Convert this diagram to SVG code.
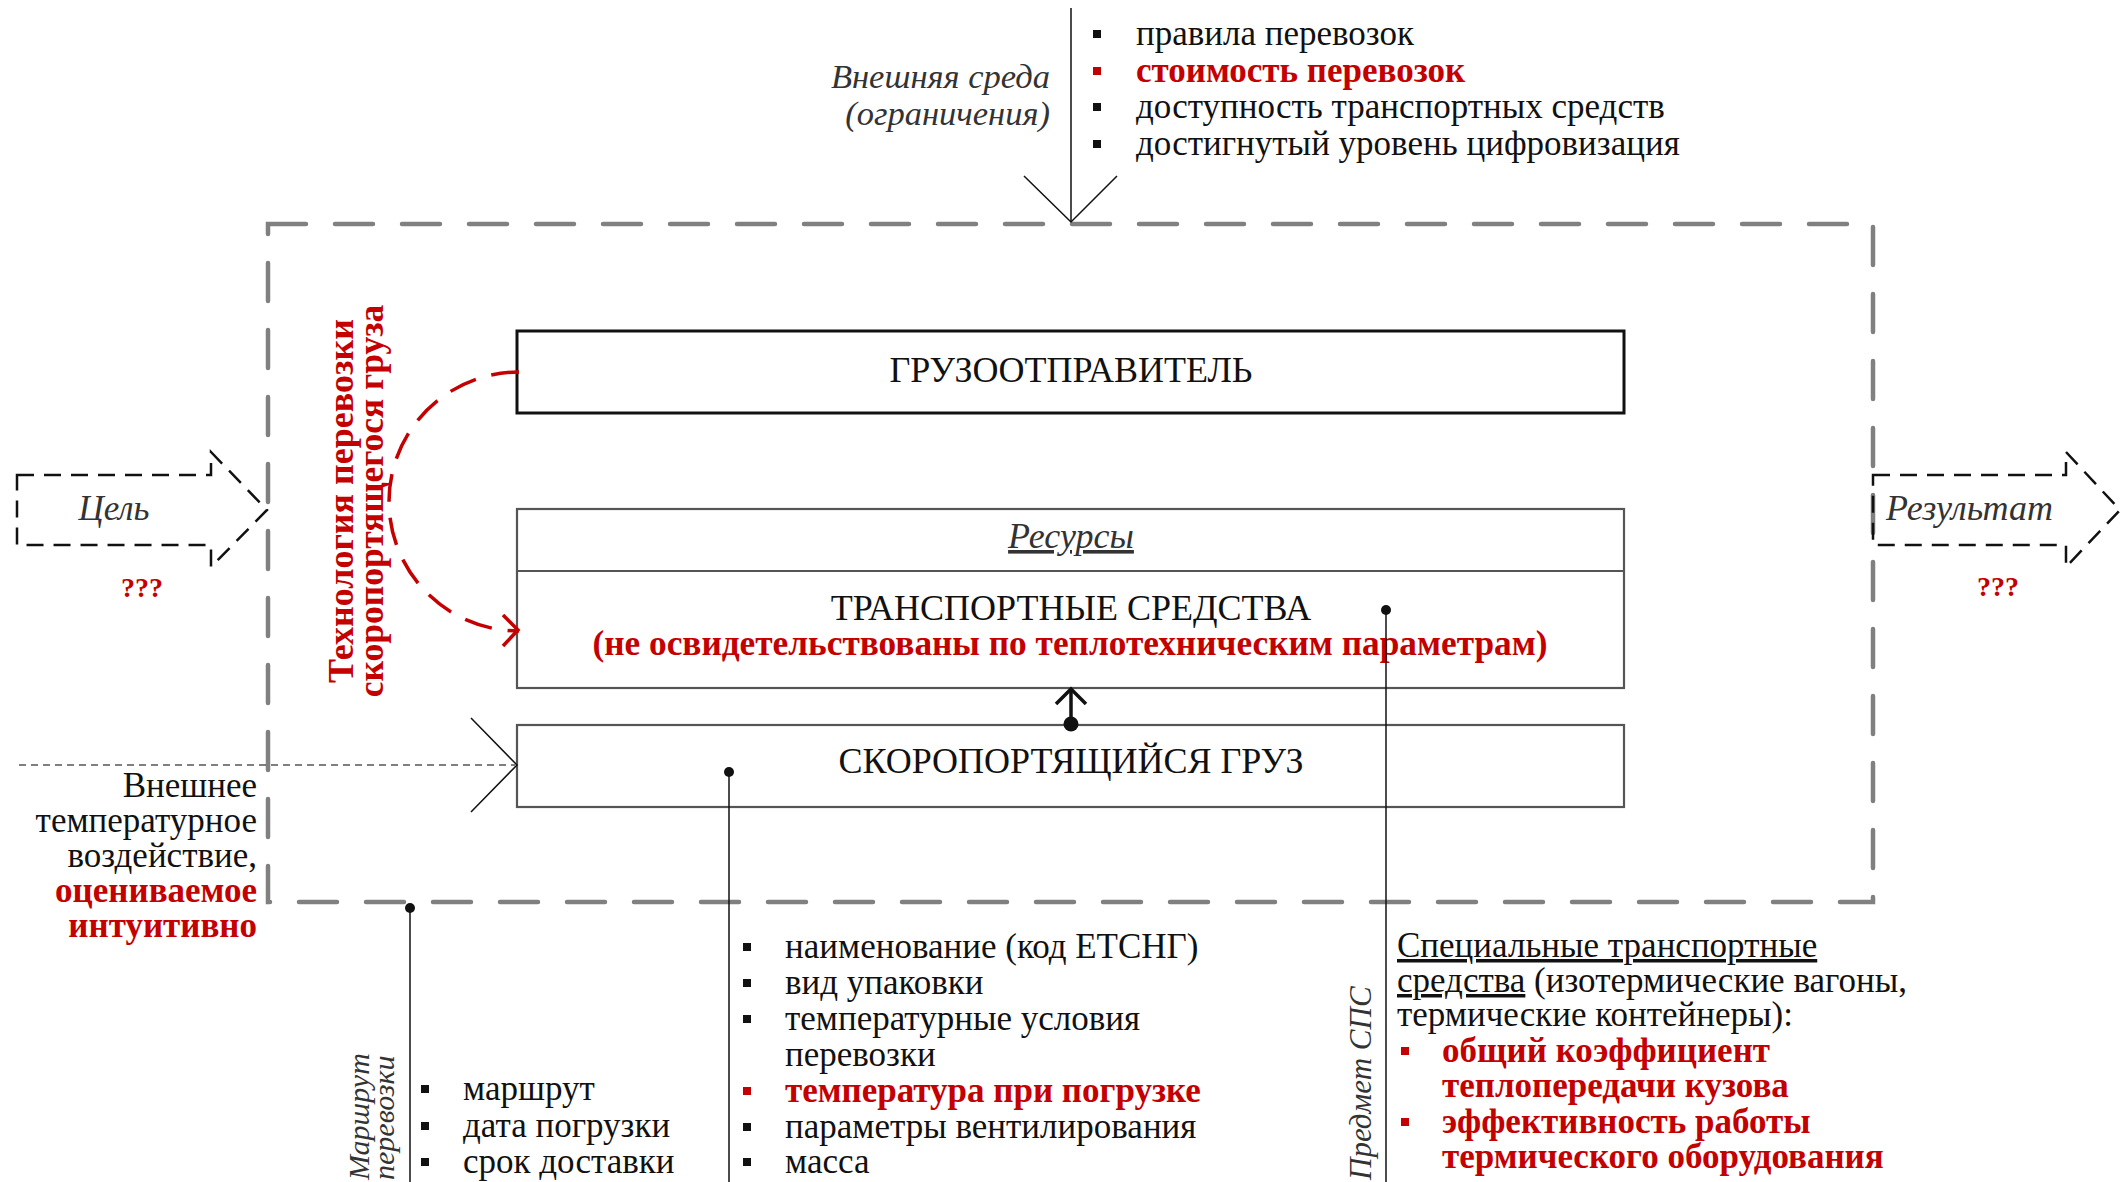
<svg xmlns="http://www.w3.org/2000/svg" width="2123" height="1182" viewBox="0 0 2123 1182">
<style>
  text { font-family: "Liberation Serif", "Times New Roman", serif; fill: #111; }
  .t { font-size: 35px; }
  .h { font-size: 36px; }
  .it { font-style: italic; fill: #333; }
  .red { fill: #c40000; font-weight: bold; }
  .mid { text-anchor: middle; }
  .end { text-anchor: end; }
  .thin { stroke: #111; stroke-width: 1.5; fill: none; }
  .sysbox { fill: none; stroke: #808080; stroke-width: 4.5; stroke-dasharray: 38 29; stroke-linecap: round; }
  .io { fill: none; stroke: #111; stroke-width: 2.5; stroke-dasharray: 17 10; }
  .node { fill: #fff; stroke: #555; stroke-width: 2.2; }
  .bk { fill: #111; }
  .rb { fill: #c40000; }
</style>

<!-- system boundary -->
<g id="system-boundary">
  <path class="sysbox" d="M268,224 H1873 V902 H268 Z"/>
</g>

<!-- external environment label & list -->
<g id="environment">
  <text class="it end" font-size="34.5" x="1050" y="88">Внешняя среда</text>
  <text class="it end" font-size="34.5" x="1050" y="125">(ограничения)</text>
  <rect class="bk" x="1093" y="30" width="8" height="8"/>
  <text class="t" x="1136" y="45">правила перевозок</text>
  <rect class="rb" x="1093" y="67" width="8" height="8"/>
  <text class="t red" x="1136" y="82">стоимость перевозок</text>
  <rect class="bk" x="1093" y="103" width="8" height="8"/>
  <text class="t" x="1136" y="118">доступность транспортных средств</text>
  <rect class="bk" x="1093" y="140" width="8" height="8"/>
  <text class="t" x="1136" y="155">достигнутый уровень цифровизация</text>
</g>

<!-- goal -->
<g id="goal">
  <path class="io" d="M17,475 H211 V452 L267,510 L211,567 V545 H17 Z"/>
  <text class="t it mid" x="114" y="520">Цель</text>
  <text class="red mid" x="142" y="597" font-size="28">???</text>
</g>

<!-- result -->
<g id="result">
  <path class="io" d="M1873,475 H2066 V452 L2120,510 L2066,567 V545 H1873 Z"/>
  <text class="h it" x="1886" y="520">Результат</text>
  <text class="red mid" x="1998" y="596" font-size="28">???</text>
</g>

<!-- technology label -->
<g id="technology">
  <text class="red mid" font-size="36" transform="translate(353,501) rotate(-90)">Технология перевозки</text>
  <text class="red mid" font-size="35.5" transform="translate(383,501) rotate(-90)">скоропортящегося груза</text>
</g>

<!-- shipper -->
<g id="shipper">
  <rect x="517" y="331" width="1107" height="82" fill="#fff" stroke="#111" stroke-width="3"/>
  <text class="h mid" x="1071" y="382">ГРУЗООТПРАВИТЕЛЬ</text>
</g>

<!-- resources / vehicles -->
<g id="vehicles">
  <rect class="node" x="517" y="509" width="1107" height="179"/>
  <line x1="517" y1="571" x2="1624" y2="571" stroke="#555" stroke-width="2.2"/>
  <text class="it mid" x="1071" y="548" font-size="36" text-decoration="underline">Ресурсы</text>
  <text class="h mid" x="1071" y="620">ТРАНСПОРТНЫЕ СРЕДСТВА</text>
  <text class="red mid" x="1070" y="655" font-size="35.3">(не освидетельствованы по теплотехническим параметрам)</text>
</g>

<!-- cargo -->
<g id="cargo">
  <rect class="node" x="517" y="725" width="1107" height="82"/>
  <text class="h mid" x="1071" y="773">СКОРОПОРТЯЩИЙСЯ ГРУЗ</text>
</g>

<!-- connectors -->
<g id="connectors">
  <line class="thin" x1="1071" y1="8" x2="1071" y2="222"/>
  <polyline class="thin" points="1024,176 1071,222 1117,176"/>
  <line x1="19" y1="765" x2="515" y2="765" stroke="#555" stroke-width="1.5" stroke-dasharray="7 5"/>
  <polyline class="thin" points="471,718 517,765 471,812"/>
  <path d="M519,372 A130,129.5 0 0 0 519,631" fill="none" stroke="#c40000" stroke-width="3.5" stroke-dasharray="28 16"/>
  <polyline points="503,615 518,630 503,646" fill="none" stroke="#c40000" stroke-width="3.5"/>
  <line x1="1071" y1="724" x2="1071" y2="690" stroke="#111" stroke-width="3.5"/>
  <polyline points="1056,704 1071,689 1086,704" fill="none" stroke="#111" stroke-width="3.5"/>
  <circle class="bk" cx="1071" cy="724" r="7.5"/>
  <line class="thin" x1="410" y1="908" x2="410" y2="1182"/>
  <circle class="bk" cx="410" cy="908" r="5"/>
  <line class="thin" x1="729" y1="772" x2="729" y2="1182"/>
  <circle class="bk" cx="729" cy="772" r="5"/>
  <line class="thin" x1="1386" y1="610" x2="1386" y2="1182"/>
  <circle class="bk" cx="1386" cy="610" r="5"/>
</g>

<!-- external temperature label -->
<g id="ext-temperature">
  <text class="t end" x="257" y="797">Внешнее</text>
  <text class="t end" x="257" y="832">температурное</text>
  <text class="t end" x="257" y="867">воздействие,</text>
  <text class="t end red" x="257" y="902">оцениваемое</text>
  <text class="t end red" x="257" y="937">интуитивно</text>
</g>

<!-- route -->
<g id="route">
  <text class="it" font-size="30" transform="translate(369,1180) rotate(-90)">Маршрут</text>
  <text class="it" font-size="30" transform="translate(394,1180) rotate(-90)">перевозки</text>
  <rect class="bk" x="421" y="1085" width="8" height="8"/>
  <text class="t" x="463" y="1100">маршрут</text>
  <rect class="bk" x="421" y="1122" width="8" height="8"/>
  <text class="t" x="463" y="1137">дата погрузки</text>
  <rect class="bk" x="421" y="1158" width="8" height="8"/>
  <text class="t" x="463" y="1173">срок доставки</text>
</g>

<!-- cargo properties -->
<g id="cargo-props">
  <rect class="bk" x="743" y="943" width="8" height="8"/>
  <text class="t" x="785" y="958">наименование (код ЕТСНГ)</text>
  <rect class="bk" x="743" y="979" width="8" height="8"/>
  <text class="t" x="785" y="994">вид упаковки</text>
  <rect class="bk" x="743" y="1015" width="8" height="8"/>
  <text class="t" x="785" y="1030">температурные условия</text>
  <text class="t" x="785" y="1066">перевозки</text>
  <rect class="rb" x="743" y="1087" width="8" height="8"/>
  <text class="t red" x="785" y="1102">температура при погрузке</text>
  <rect class="bk" x="743" y="1123" width="8" height="8"/>
  <text class="t" x="785" y="1138">параметры вентилирования</text>
  <rect class="bk" x="743" y="1158" width="8" height="8"/>
  <text class="t" x="785" y="1173">масса</text>
</g>

<!-- vehicle properties -->
<g id="vehicle-props">
  <text class="it" font-size="31" transform="translate(1371,1180) rotate(-90)">Предмет СПС</text>
  <text class="t" x="1397" y="957"><tspan text-decoration="underline">Специальные транспортные</tspan></text>
  <text class="t" x="1397" y="992"><tspan text-decoration="underline">средства</tspan> (изотермические вагоны,</text>
  <text class="t" x="1397" y="1026">термические контейнеры):</text>
  <rect class="rb" x="1401" y="1047" width="8" height="8"/>
  <text class="t red" x="1442" y="1062" font-size="35.5">общий коэффициент</text>
  <text class="t red" x="1442" y="1097" font-size="35.5">теплопередачи кузова</text>
  <rect class="rb" x="1401" y="1118" width="8" height="8"/>
  <text class="t red" x="1442" y="1133" font-size="35.5">эффективность работы</text>
  <text class="t red" x="1442" y="1168" font-size="35.5">термического оборудования</text>
</g>
</svg>
